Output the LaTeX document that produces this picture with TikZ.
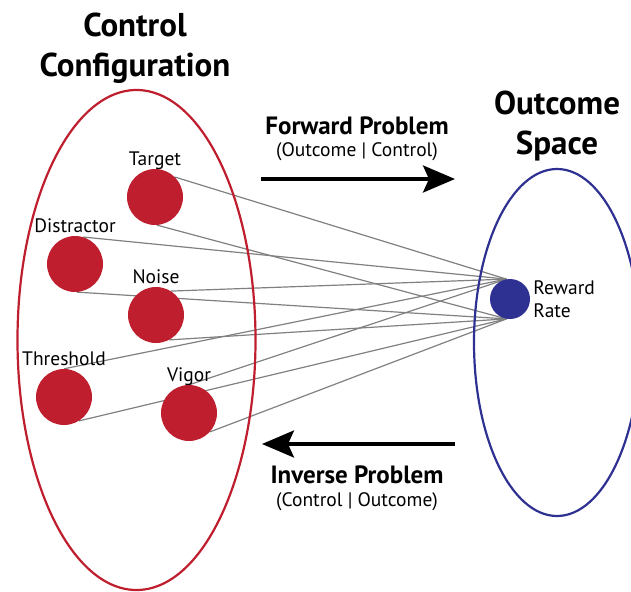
\documentclass[tikz,border=0pt]{standalone}
\usepackage{fontspec}
\setmainfont{PT Sans}
\usetikzlibrary{positioning,shapes.geometric,arrows.meta,backgrounds}
\definecolor{ctrlred}{RGB}{190,30,45}
\definecolor{outblue}{RGB}{46,49,146}

\begin{document}
\begin{tikzpicture}[x=1pt,y=-1pt]
    \tikzstyle{every node}=[inner sep=0pt]
    \tikzstyle{knob}=[circle, fill=ctrlred, minimum size=56pt]
    \tikzstyle{lbl}=[font=\fontsize{19.5}{23}\selectfont, text height=0.75em, text depth=0.25em]
    \tikzstyle{titletext}=[font=\bfseries\fontsize{33}{40}\selectfont, align=center]
    \tikzstyle{prob}=[font=\bfseries\fontsize{25}{28}\selectfont]
    \tikzstyle{sub}=[font=\fontsize{19.5}{23}\selectfont]
    \tikzstyle{link}=[gray, line width=1.2pt]
    \tikzstyle{bigarrow}=[line width=3.3pt, -{Stealth[length=32pt,width=27pt,inset=6pt]}]
    \useasboundingbox (0,0) rectangle (631,591);
    \clip (0,0) rectangle (631,591);

    % the two spaces
    \node[ellipse, draw=ctrlred, line width=2.2pt, minimum width=238pt, minimum height=500pt] (ctrl) at (136.5,340) {};
    \node[ellipse, draw=outblue, line width=2.2pt, minimum width=166pt, minimum height=347pt] (outc) at (557,342.5) {};
    \node[titletext] (ctrltitle) at (135,48) {Control\\Configuration};
    \node[titletext] (outctitle) at (557,126) {Outcome\\Space};

    % control parameters
    \node[knob] (target) at (155,197) {};
    \node[knob] (distractor) at (75,264) {};
    \node[knob] (noise) at (156,315) {};
    \node[knob] (threshold) at (64,397) {};
    \node[knob] (vigor) at (189,413) {};
    \foreach \n/\t in {target/Target, distractor/Distractor, noise/Noise, threshold/Threshold, vigor/Vigor}
        \node[lbl, above=1pt of \n] (\n lbl) {\t};

    \node[circle, fill=outblue, minimum size=40pt] (reward) at (510,299) {};
    \node[lbl, align=left, right=3pt of reward, text height=, text depth=] (rewardlbl) {Reward\\Rate};

    \begin{pgfonlayer}{background}
    \foreach \n/\a/\b in {target/45/274, distractor/73/274, noise/58/298, threshold/90/302, vigor/90/318}
        \draw[link] (\n.\a) -- (reward.100) (\n.\b) -- (reward.260);
    \end{pgfonlayer}

    % forward and inverse problem
    \node[prob] (fwd) at (357,126) {Forward Problem};
    \node[sub] (fwdsub) at (357,152) {(Outcome | Control)};
    \coordinate (fwdtail) at (261,179);
    \coordinate (fwdtip) at (455,179);
    \draw[bigarrow] (fwdtail) -- (fwdtip);

    \coordinate (invtail) at (455,444);
    \coordinate (invtip) at (262,444);
    \draw[bigarrow] (invtail) -- (invtip);
    \node[prob] (inv) at (357,475) {Inverse Problem};
    \node[sub] (invsub) at (357,502) {(Control | Outcome)};
\end{tikzpicture}
\end{document}
